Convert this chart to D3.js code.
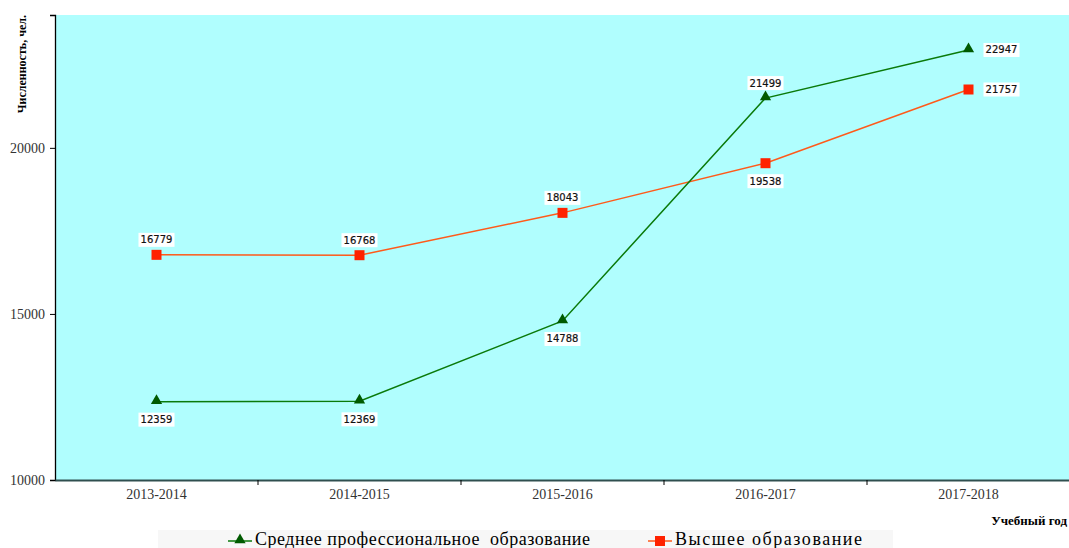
<!DOCTYPE html>
<html>
<head>
<meta charset="utf-8">
<script src="https://cdn.jsdelivr.net/npm/d3@7"></script>
<style>
  body { margin: 0; background: white; }
</style>
</head>
<body>
<script>
// data
let years = ['2013-2014', '2014-2015', '2015-2016', '2016-2017', '2017-2018'];
let spo = [12359, 12369, 14788, 21499, 22947];   // Среднее профессиональное
let vo  = [16779, 16768, 18043, 19538, 21757];   // Высшее
let yTicks = [10000, 15000, 20000];
// label placement: 'b' below, 'a' above, 'r' right
let spoPos = ['b', 'b', 'b', 'a', 'r'];
let voPos  = ['a', 'a', 'a', 'b', 'r'];

let width = 1069, height = 548;
let margin = { top: 15, left: 55, right: 0, bottom: 68 };

let svg = d3.select('body').append('svg')
  .attr('width', width)
  .attr('height', height)
  .style('font-family', '"Liberation Serif", "Times New Roman", serif');

let xScale = d3.scaleBand()
  .domain(years)
  .range([margin.left, 1070])
  .padding(0);

let yScale = d3.scaleLinear()
  .domain([10000, 24000])
  .range([height - margin.bottom, margin.top]);

let cx = d => xScale(d) + xScale.bandwidth() / 2;

// plot background
svg.append('rect')
  .attr('x', margin.left)
  .attr('y', margin.top)
  .attr('width', width - margin.left)
  .attr('height', height - margin.bottom - margin.top)
  .attr('fill', '#b0fefe');

// y axis
let yAxis = svg.append('g')
  .attr('transform', `translate(${margin.left},0)`)
  .call(d3.axisLeft(yScale).tickValues(yTicks).tickFormat(d3.format('d')).tickSize(5).tickPadding(5));
yAxis.select('.domain').attr('stroke', '#000').attr('stroke-width', 1.3);
yAxis.selectAll('text').style('font-size', '14px').style('font-family', '"Liberation Serif", serif').style('fill', '#333');

// x axis
let xAxis = svg.append('g')
  .attr('transform', `translate(0,${height - margin.bottom})`)
  .call(d3.axisBottom(xScale).tickSize(0).tickPadding(9));
xAxis.select('.domain').attr('stroke', '#2f4f4f').attr('stroke-width', 2);
xAxis.selectAll('text').style('font-size', '14px').style('font-family', '"Liberation Serif", serif').style('fill', '#333');

// tick marks between categories
svg.append('g').selectAll('line')
  .data(years.slice(1))
  .enter()
  .append('line')
  .attr('x1', d => xScale(d))
  .attr('x2', d => xScale(d))
  .attr('y1', height - margin.bottom)
  .attr('y2', height - margin.bottom + 5)
  .attr('stroke', '#000');

// axis titles
svg.append('text')
  .attr('transform', 'rotate(-90)')
  .attr('x', -margin.top)
  .attr('y', 26)
  .attr('text-anchor', 'end')
  .style('font-size', '12px')
  .style('font-weight', 'bold')
  .text('Численность, чел.');

svg.append('text')
  .attr('x', 1067)
  .attr('y', 525)
  .attr('text-anchor', 'end')
  .style('font-size', '13px')
  .style('font-weight', 'bold')
  .text('Учебный год');

// lines
let line = d3.line()
  .x((d, i) => cx(years[i]))
  .y(d => yScale(d));

svg.append('path')
  .datum(vo)
  .attr('d', line)
  .attr('fill', 'none')
  .attr('stroke', '#ff5a1a')
  .attr('stroke-width', 1.5);

svg.append('path')
  .datum(spo)
  .attr('d', line)
  .attr('fill', 'none')
  .attr('stroke', '#0a7a0a')
  .attr('stroke-width', 1.5);

// markers
let tri = d3.symbol().type(d3.symbolTriangle).size(55);

svg.selectAll('.m-vo')
  .data(vo)
  .enter()
  .append('rect')
  .attr('x', (d, i) => cx(years[i]) - 5)
  .attr('y', d => yScale(d) - 5)
  .attr('width', 10)
  .attr('height', 10)
  .attr('fill', '#ff2200');

svg.selectAll('.m-spo')
  .data(spo)
  .enter()
  .append('path')
  .attr('d', tri)
  .attr('transform', (d, i) => `translate(${cx(years[i])},${yScale(d) - 1})`)
  .attr('fill', '#005a00');

// value labels with white boxes
function addLabels(values, pos) {
  values.forEach((v, i) => {
    let x = cx(years[i]), y = yScale(v);
    let lx = x, ly = y;
    if (pos[i] === 'a') ly = y - 15;
    if (pos[i] === 'b') ly = y + 18;
    if (pos[i] === 'r') { lx = x + 33; ly = y; }
    let g = svg.append('g').attr('transform', `translate(${lx},${ly})`);
    g.append('rect')
      .attr('x', -18)
      .attr('y', -7)
      .attr('width', 36)
      .attr('height', 14)
      .attr('fill', 'white');
    g.append('text')
      .attr('text-anchor', 'middle')
      .attr('dy', '0.35em')
      .style('font-family', '"DejaVu Sans", sans-serif')
      .style('font-size', '10px')
      .style('fill', '#111')
      .style('stroke', '#111')
      .style('stroke-width', 0.2)
      .text(v);
  });
}
addLabels(spo, spoPos);
addLabels(vo, voPos);

// legend
let legend = svg.append('g');
legend.append('rect')
  .attr('x', 158)
  .attr('y', 530)
  .attr('width', 735)
  .attr('height', 20)
  .attr('fill', '#f7f7f7');

let legendItems = [
  { name: 'Среднее профессиональное  образование', x: 228, w: 335, color: '#0a7a0a', mark: '#005a00', shape: 'tri' },
  { name: 'Высшее образование', x: 648, w: 187, color: '#ff5a1a', mark: '#ff2200', shape: 'sq' }
];
legendItems.forEach(it => {
  legend.append('line')
    .attr('x1', it.x).attr('x2', it.x + 24)
    .attr('y1', 541).attr('y2', 541)
    .attr('stroke', it.color)
    .attr('stroke-width', 1.5);
  if (it.shape === 'tri') {
    legend.append('path')
      .attr('d', tri)
      .attr('transform', `translate(${it.x + 12},540)`)
      .attr('fill', it.mark);
  } else {
    legend.append('rect')
      .attr('x', it.x + 7).attr('y', 536)
      .attr('width', 10).attr('height', 10)
      .attr('fill', it.mark);
  }
  legend.append('text')
    .attr('x', it.x + 27)
    .attr('y', 545)
    .attr('xml:space', 'preserve')
    .attr('textLength', it.w)
    .attr('lengthAdjust', 'spacing')
    .style('font-size', '18px')
    .text(it.name);
});
</script>
</body>
</html>
